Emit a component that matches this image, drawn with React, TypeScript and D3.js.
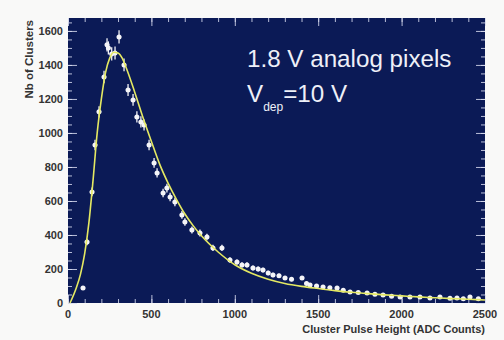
import { useEffect, useRef } from 'react';
import * as d3 from 'd3';

// measured points: ADC counts, number of clusters
const pointX = [90, 114, 144, 162, 186, 216, 234, 242, 262, 282, 306, 336, 360, 390, 413, 437, 456, 486, 516, 534, 570, 593, 612, 641, 683, 701, 743, 791, 833, 869, 923, 971, 1013, 1043, 1073, 1109, 1140, 1169, 1200, 1229, 1265, 1301, 1340, 1403, 1430, 1451, 1490, 1529, 1570, 1613, 1650, 1691, 1740, 1793, 1840, 1889, 1940, 1991, 2050, 2110, 2170, 2230, 2290, 2332, 2370, 2410, 2460];
const pointY = [88, 359, 653, 929, 1124, 1329, 1518, 1500, 1465, 1470, 1565, 1400, 1253, 1194, 1094, 1065, 1047, 929, 824, 765, 647, 676, 624, 594, 518, 476, 429, 412, 388, 324, 324, 253, 241, 224, 224, 206, 200, 194, 176, 165, 160, 147, 140, 147, 115, 106, 100, 94, 90, 88, 75, 65, 62, 59, 52, 47, 40, 35, 36, 35, 30, 35, 28, 29, 25, 35, 25];

// fit curve samples
const fitX = [12, 50, 75, 100, 125, 150, 175, 200, 225, 250, 275, 300, 325, 350, 400, 450, 500, 550, 600, 650, 700, 750, 800, 900, 1000, 1100, 1200, 1300, 1400, 1500, 1600, 1700, 1800, 1900, 2000, 2100, 2200, 2300, 2400, 2500];
const fitY = [0, 90, 170, 290, 470, 720, 1000, 1200, 1355, 1440, 1475, 1470, 1440, 1380, 1240, 1090, 950, 815, 705, 610, 525, 455, 395, 300, 225, 175, 140, 115, 98, 85, 73, 63, 55, 48, 42, 36, 31, 26, 22, 18];

const xTicks = [0, 500, 1000, 1500, 2000, 2500];
const yTicks = [0, 200, 400, 600, 800, 1000, 1200, 1400, 1600];

const W = 504, H = 340;
const frame = { left: 68, right: 485, top: 18, bottom: 303 };
const font = 'Liberation Sans, Arial, Helvetica, sans-serif';

export default function App() {
  const ref = useRef<SVGSVGElement>(null);

  useEffect(() => {
    if (!ref.current) return;
    const svg = d3.select(ref.current);
    svg.selectAll('*').remove();

    const x = d3.scaleLinear().domain([0, 2500]).range([frame.left, frame.right]);
    const y = d3.scaleLinear().domain([0, 1676]).range([frame.bottom, frame.top]);

    svg.append('rect').attr('width', W).attr('height', H).attr('fill', '#f9f9f8');
    svg.append('rect')
      .attr('x', frame.left).attr('y', frame.top)
      .attr('width', frame.right - frame.left).attr('height', frame.bottom - frame.top)
      .attr('fill', '#0b1a56');

    const tickCol = '#d8dcf0';

    // ticks inside the frame (ROOT style), all four sides
    const styleAxis = (s: d3.Selection<SVGGElement, unknown, null, undefined>) => {
      s.select('.domain').remove();
      s.selectAll('line').attr('stroke', tickCol).attr('stroke-width', 1).attr('opacity', 0.85);
      s.selectAll('text').remove();
    };
    const xMinor = d3.range(0, 2501, 100);
    const yMinor = d3.range(0, 1676, 50);

    svg.append('g').attr('transform', `translate(0,${frame.bottom})`)
      .call(d3.axisTop(x).tickValues(xMinor).tickSize(4)).call(styleAxis);
    svg.append('g').attr('transform', `translate(0,${frame.bottom})`)
      .call(d3.axisTop(x).tickValues(xTicks).tickSize(8)).call(styleAxis);
    svg.append('g').attr('transform', `translate(0,${frame.top})`)
      .call(d3.axisBottom(x).tickValues(xMinor).tickSize(4)).call(styleAxis);
    svg.append('g').attr('transform', `translate(0,${frame.top})`)
      .call(d3.axisBottom(x).tickValues(xTicks).tickSize(8)).call(styleAxis);
    svg.append('g').attr('transform', `translate(${frame.left},0)`)
      .call(d3.axisRight(y).tickValues(yMinor).tickSize(4)).call(styleAxis);
    svg.append('g').attr('transform', `translate(${frame.left},0)`)
      .call(d3.axisRight(y).tickValues(yTicks).tickSize(9)).call(styleAxis);
    svg.append('g').attr('transform', `translate(${frame.right},0)`)
      .call(d3.axisLeft(y).tickValues(yMinor).tickSize(4)).call(styleAxis);
    svg.append('g').attr('transform', `translate(${frame.right},0)`)
      .call(d3.axisLeft(y).tickValues(yTicks).tickSize(9)).call(styleAxis);

    // tick labels
    svg.append('g').selectAll('text').data(yTicks).join('text')
      .attr('x', frame.left - 5).attr('y', d => y(d) + 4)
      .attr('text-anchor', 'end').attr('font-family', font).attr('font-weight', 'bold')
      .attr('font-size', 11).attr('fill', '#333').text(d => String(d));
    svg.append('g').selectAll('text').data(xTicks).join('text')
      .attr('x', d => x(d)).attr('y', frame.bottom + 15)
      .attr('text-anchor', 'middle').attr('font-family', font).attr('font-weight', 'bold')
      .attr('font-size', 11).attr('fill', '#333').text(d => String(d));

    svg.append('text')
      .attr('transform', `translate(33,${frame.top + 2}) rotate(-90)`)
      .attr('text-anchor', 'end').attr('font-family', font).attr('font-weight', 'bold')
      .attr('font-size', 11.5).attr('fill', '#333').text('Nb of Clusters');
    svg.append('text')
      .attr('x', frame.right).attr('y', 333)
      .attr('text-anchor', 'end').attr('font-family', font).attr('font-weight', 'bold')
      .attr('font-size', 11).attr('fill', '#333').text('Cluster Pulse Height (ADC Counts)');

    const plot = svg.append('g');

    // data points with error bars
    const pts = pointX.map((v, i) => ({ x: v, y: pointY[i] }));
    const pg = plot.append('g');
    pg.selectAll('line.ev').data(pts).join('line').attr('class', 'ev')
      .attr('x1', d => x(d.x)).attr('x2', d => x(d.x))
      .attr('y1', d => y(d.y + Math.sqrt(d.y))).attr('y2', d => y(Math.max(0, d.y - Math.sqrt(d.y))))
      .attr('stroke', '#f2f2f6').attr('stroke-width', 1.3);
    pg.selectAll('line.eh').data(pts).join('line').attr('class', 'eh')
      .attr('x1', d => x(d.x - 13)).attr('x2', d => x(d.x + 13))
      .attr('y1', d => y(d.y)).attr('y2', d => y(d.y))
      .attr('stroke', '#f2f2f6').attr('stroke-width', 1.3);
    pg.selectAll('circle').data(pts).join('circle')
      .attr('cx', d => x(d.x)).attr('cy', d => y(d.y)).attr('r', 2.5)
      .attr('fill', '#f4f4f8');

    // fit
    const fit = fitX.map((v, i) => ({ x: v, y: fitY[i] }));
    const line = d3.line<{ x: number; y: number }>()
      .x(d => x(d.x)).y(d => y(d.y)).curve(d3.curveMonotoneX);
    plot.append('path').datum(fit).attr('d', line)
      .attr('fill', 'none').attr('stroke', '#e4e862').attr('stroke-width', 1.6);

    // annotation
    svg.append('text').attr('x', 247).attr('y', 67)
      .attr('font-family', font).attr('font-size', 24.2).attr('fill', '#eef0f8')
      .text('1.8 V analog pixels');
    const t2 = svg.append('text').attr('x', 247).attr('y', 102)
      .attr('font-family', font).attr('font-size', 24.2).attr('fill', '#eef0f8');
    t2.append('tspan').text('V');
    t2.append('tspan').attr('dy', 9).attr('font-size', 12).text('dep');
    t2.append('tspan').attr('dy', -9).text('=10 V');
  }, []);

  return (
    <div style={{ position: 'fixed', left: 0, top: 0 }}>
      <svg ref={ref} width={W} height={H} style={{ display: 'block' }} />
    </div>
  );
}
